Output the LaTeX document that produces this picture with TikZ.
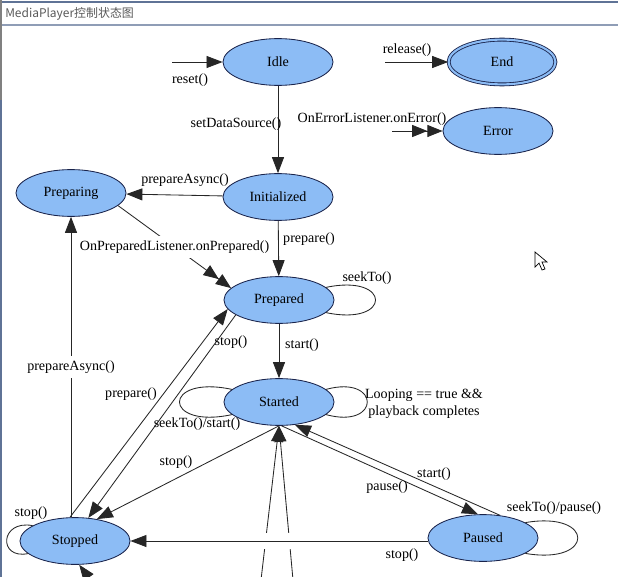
\documentclass[tikz,border=0pt]{standalone}
\usepackage{fontspec}
\setmainfont{Liberation Serif}
\newfontfamily\cjk{Noto Sans CJK SC}
\usetikzlibrary{shapes.geometric,arrows.meta}

\definecolor{statoblu}{RGB}{140,188,245}
\definecolor{bordo}{RGB}{25,35,75}
\definecolor{cornice}{RGB}{95,115,150}

\tikzset{
    stato/.style={ellipse, draw=bordo, line width=0.6pt, fill=statoblu,
        minimum width=2.75cm, minimum height=1.17cm, inner sep=0pt,
        font=\fontsize{10}{12}\selectfont},
    freccia/.style={draw=black!85, line width=0.6pt,
        -{Triangle[length=0.4cm,width=0.3cm]}},
    doppia/.style={draw=black!85, line width=0.6pt,
        -{Triangle[length=0.38cm,width=0.3cm]Triangle[length=0.38cm,width=0.3cm]}},
    anello/.style={draw=black!85, line width=0.6pt},
    etichetta/.style={font=\fontsize{10}{12}\selectfont, inner sep=1pt},
    sullinea/.style={etichetta, fill=white, inner xsep=1pt, inner ysep=3.5pt},
}

\begin{document}
\begin{tikzpicture}[x=0.025cm, y=-0.025cm]
    \useasboundingbox (0,0) rectangle (618,577);
    \fill[white] (0,0) rectangle (618,577);

    % Barra del titolo
    \draw[cornice, line width=1.2pt] (0,2) -- (618,2);
    \draw[cornice!70, line width=0.8pt] (0,25) -- (618,25);
    \draw[gray, line width=2pt] (1,0) -- (1,100);
    \draw[cornice, line width=0.8pt] (1,100) -- (1,577);
    \node[anchor=west, inner sep=0pt, text=black!65,
        font=\cjk\fontsize{8.5}{10}\selectfont] (titolo) at (5,14) {MediaPlayer控制状态图};

    % Stati
    \foreach \nome/\x/\y/\testo in {idle/278/62/Idle, error/498/131/Error,
        init/278/197/Initialized, preparing/71/193/Preparing,
        prepared/279/300/Prepared, started/279/402/Started,
        stopped/75/541/Stopped, paused/483/538/Paused} {
        \node[stato] (\nome) at (\x,\y) {\testo};
    }
    \node[stato, double=statoblu, double distance=1.5pt,
        minimum width=2.67cm, minimum height=1.12cm] (end) at (502,62) {End};

    % Estremi liberi
    \coordinate (r0) at (172,62);
    \coordinate (rel0) at (385,62);
    \coordinate (e0) at (392,131);
    \coordinate (b1) at (261,580);
    \coordinate (b2) at (293,580);
    \coordinate (b3) at (94,585);

    % Transizioni
    \draw[freccia] (r0) -- (idle.west);
    \draw[freccia] (rel0) -- (end.west);
    \draw[doppia] (e0) -- (error.west);
    \draw[freccia] (idle) -- (init);
    \draw[freccia] (init) -- (preparing);
    \draw[freccia] (init) -- (prepared);
    \draw[freccia] (prepared) -- (started);
    \draw[doppia] (preparing.-15) -- (prepared.166)
        node[sullinea, midway] (onprep) {OnPreparedListener.onPrepared()};
    \draw[freccia] (preparing.south |- stopped.north) -- (preparing.south)
        node[sullinea, midway] (async) {prepareAsync()};
    \draw[freccia] (stopped.102) -- (prepared.-170);
    \draw[freccia] (prepared.-161) -- (stopped.60);
    \draw[freccia] (started.-90) -- (stopped.45);
    \draw[freccia] (started.-84) -- (paused.102);
    \draw[freccia] (paused.53) -- (started.-55);
    \draw[freccia] (b1) -- (started.-90);
    \draw[freccia] (b2) -- (started.-90);
    \draw[freccia] (b3) -- (stopped.-80);

    % Linea di stop() sopra le altre
    \fill[white] (250,533) rectangle (305,549);
    \draw[freccia] (paused.west |- stopped) -- (stopped.east);

    % Anelli
    \draw[anello] (prepared.15) .. controls +(66,-14) and +(66,14) .. (prepared.-15);
    \draw[anello] (started.15) .. controls +(55,-15) and +(55,15) .. (started.-15);
    \draw[anello] (started.165) .. controls +(-70,-15) and +(-70,15) .. (started.-165);
    \draw[anello] (stopped.160) .. controls +(-33,-6) and +(-30,6) .. (stopped.195);
    \draw[anello] (paused.20) .. controls +(70,-12) and +(70,12) .. (paused.-20);

    % Etichette
    \foreach \x/\y/\testo [count=\k] in {190/80/reset(), 407/50/release(),
        372/119/OnErrorListener.onError(), 236/124/setDataSource(),
        185/180/prepareAsync(), 309/239/prepare(), 367/278/seekTo(),
        231/342/stop(), 302/345/start(), 131/394/prepare(), 176/462/stop(),
        31/513/stop(), 434/474/start(), 387/487/pause(), 402/555/stop()} {
        \node[etichetta] (lab\k) at (\x,\y) {\testo};
    }
    \node[etichetta] (seekstart) at (197,424) {seekTo()/start()};
    \node[etichetta] (seekpause) at (554,508) {seekTo()/pause()};
    \node[etichetta, align=center] (looping) at (424,404) {Looping == true \&\&\\playback completes};

    % Cursore
    \draw[fill=white, line width=0.5pt] (535,252) -- (535,267) -- (539,263) -- (542,270)
        -- (545,269) -- (542,262) -- (547,262) -- cycle;
\end{tikzpicture}
\end{document}
